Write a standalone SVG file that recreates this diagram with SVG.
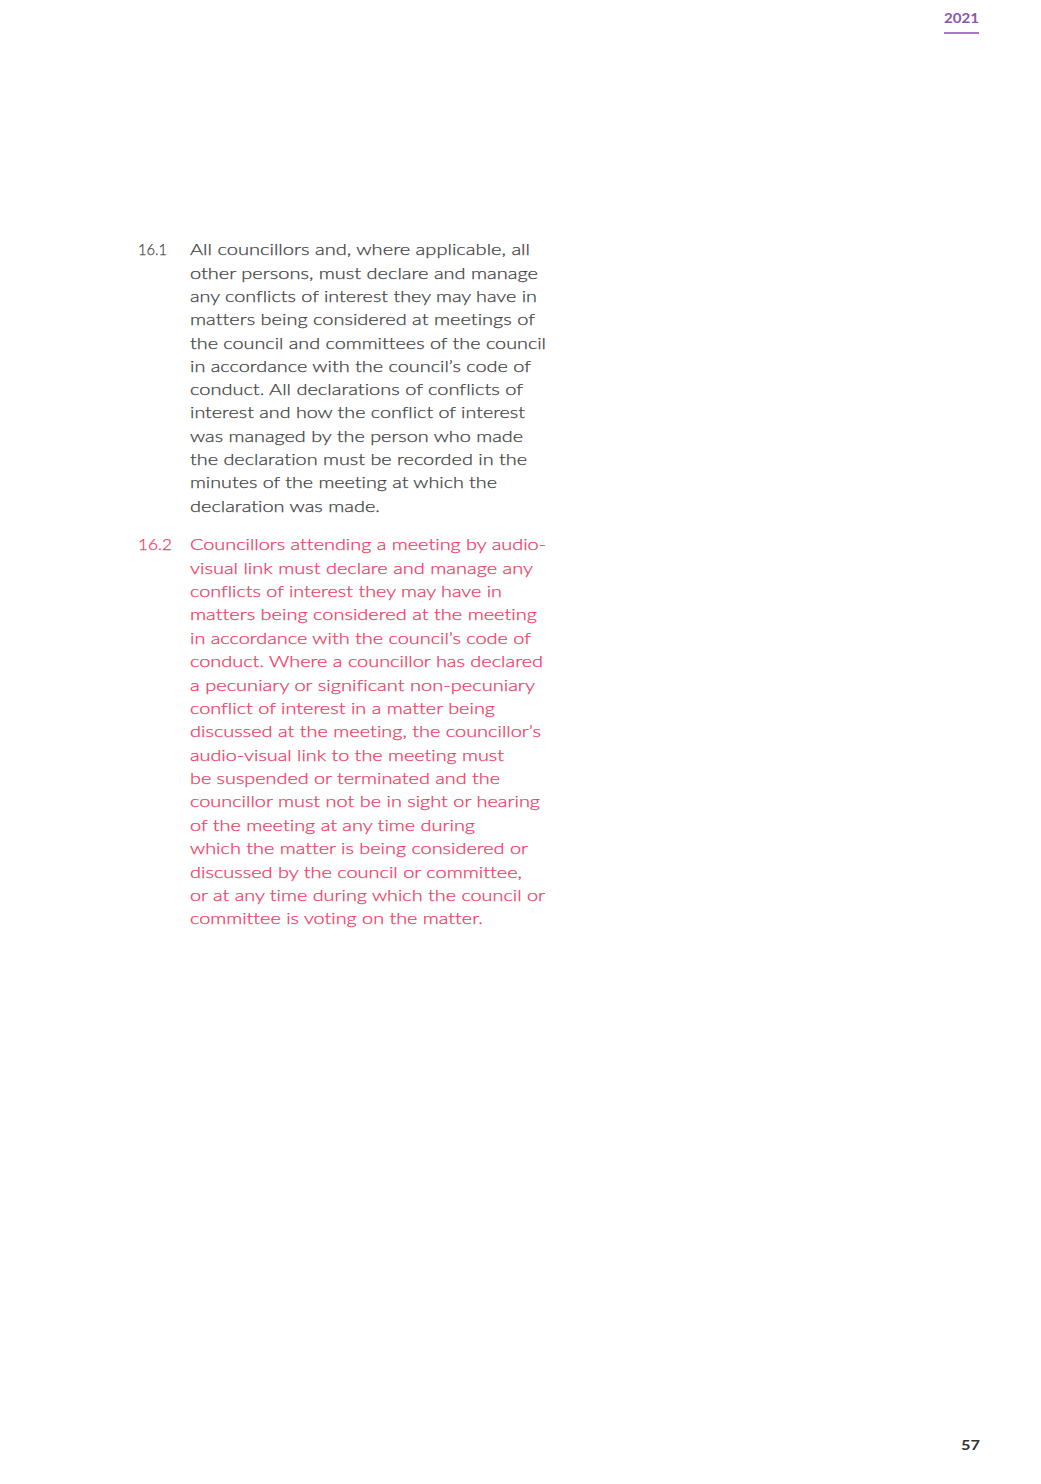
<svg xmlns="http://www.w3.org/2000/svg" width="1041" height="1484" viewBox="0 0 1041 1484">
<style>
.b{font-family:Lato,"Noto Sans","Liberation Sans",sans-serif;font-size:16.5px;font-weight:300;font-variant-ligatures:none;font-feature-settings:"liga" 0,"dlig" 0;}
.g{fill:#404040;stroke:#404040;stroke-width:0.25;}
.r{fill:#ee3862;stroke:#ee3862;stroke-width:0.25;}
.h{font-family:Lato,"Liberation Sans",sans-serif;font-weight:bold;}
</style>
<rect width="1041" height="1484" fill="#ffffff"/>
<g id="header">
<text class="h" x="944" y="22.5" font-size="14" fill="#8a56ad" textLength="35" lengthAdjust="spacingAndGlyphs">2021</text>
<line x1="944" y1="33" x2="979" y2="33" stroke="#a779c9" stroke-width="2"/>
</g>
<g id="clause-16-1" class="b g">
<text x="138" y="255.3" textLength="29" lengthAdjust="spacingAndGlyphs">16.1</text>
<text x="190" y="255.3" textLength="340" lengthAdjust="spacingAndGlyphs">All councillors and, where applicable, all</text>
<text x="190" y="278.6" textLength="348" lengthAdjust="spacingAndGlyphs">other persons, must declare and manage</text>
<text x="190" y="301.9" textLength="347" lengthAdjust="spacingAndGlyphs">any conflicts of interest they may have in</text>
<text x="190" y="325.2" textLength="345" lengthAdjust="spacingAndGlyphs">matters being considered at meetings of</text>
<text x="190" y="348.5" textLength="356" lengthAdjust="spacingAndGlyphs">the council and committees of the council</text>
<text x="190" y="371.8" textLength="341" lengthAdjust="spacingAndGlyphs">in accordance with the council’s code of</text>
<text x="190" y="395.1" textLength="333" lengthAdjust="spacingAndGlyphs">conduct. All declarations of conflicts of</text>
<text x="190" y="418.4" textLength="335" lengthAdjust="spacingAndGlyphs">interest and how the conflict of interest</text>
<text x="190" y="441.7" textLength="333" lengthAdjust="spacingAndGlyphs">was managed by the person who made</text>
<text x="190" y="465" textLength="337" lengthAdjust="spacingAndGlyphs">the declaration must be recorded in the</text>
<text x="190" y="488.3" textLength="307" lengthAdjust="spacingAndGlyphs">minutes of the meeting at which the</text>
<text x="190" y="511.6" textLength="190" lengthAdjust="spacingAndGlyphs">declaration was made.</text>
</g>
<g id="clause-16-2" class="b r">
<text x="138" y="550.3" textLength="34" lengthAdjust="spacingAndGlyphs">16.2</text>
<text x="190" y="550.3" textLength="356" lengthAdjust="spacingAndGlyphs">Councillors attending a meeting by audio-</text>
<text x="190" y="573.7" textLength="343" lengthAdjust="spacingAndGlyphs">visual link must declare and manage any</text>
<text x="190" y="597.1" textLength="312" lengthAdjust="spacingAndGlyphs">conflicts of interest they may have in</text>
<text x="190" y="620.4" textLength="347" lengthAdjust="spacingAndGlyphs">matters being considered at the meeting</text>
<text x="190" y="643.8" textLength="341" lengthAdjust="spacingAndGlyphs">in accordance with the council’s code of</text>
<text x="190" y="667.2" textLength="353" lengthAdjust="spacingAndGlyphs">conduct. Where a councillor has declared</text>
<text x="190" y="690.6" textLength="345" lengthAdjust="spacingAndGlyphs">a pecuniary or significant non-pecuniary</text>
<text x="190" y="713.9" textLength="305" lengthAdjust="spacingAndGlyphs">conflict of interest in a matter being</text>
<text x="190" y="737.3" textLength="351" lengthAdjust="spacingAndGlyphs">discussed at the meeting, the councillor’s</text>
<text x="190" y="760.7" textLength="314" lengthAdjust="spacingAndGlyphs">audio-visual link to the meeting must</text>
<text x="190" y="784.1" textLength="310" lengthAdjust="spacingAndGlyphs">be suspended or terminated and the</text>
<text x="190" y="807.4" textLength="350" lengthAdjust="spacingAndGlyphs">councillor must not be in sight or hearing</text>
<text x="190" y="830.8" textLength="285" lengthAdjust="spacingAndGlyphs">of the meeting at any time during</text>
<text x="190" y="854.2" textLength="338" lengthAdjust="spacingAndGlyphs">which the matter is being considered or</text>
<text x="190" y="877.6" textLength="332" lengthAdjust="spacingAndGlyphs">discussed by the council or committee,</text>
<text x="190" y="900.9" textLength="355" lengthAdjust="spacingAndGlyphs">or at any time during which the council or</text>
<text x="190" y="924.3" textLength="293" lengthAdjust="spacingAndGlyphs">committee is voting on the matter.</text>
</g>
<g id="page-number">
<text class="h" x="961" y="1450" font-size="14" fill="#333333" textLength="19" lengthAdjust="spacingAndGlyphs">57</text>
</g>
</svg>
